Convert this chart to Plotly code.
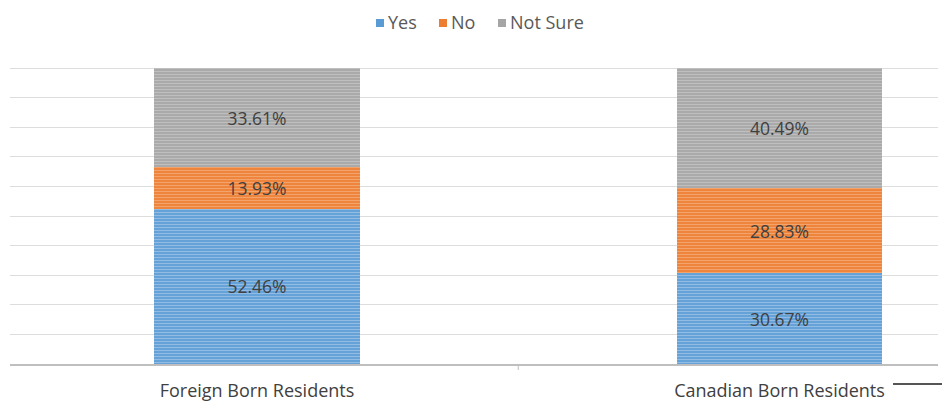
import plotly.graph_objects as go

# Survey responses by residency group (percent)
groups = ["Foreign Born Residents", "Canadian Born Residents"]
yes_pct = [52.46, 30.67]
no_pct = [13.93, 28.83]
not_sure_pct = [33.61, 40.49]

series = [
    ("Yes", yes_pct, "#5B9BD5", "#C9DEF3"),
    ("No", no_pct, "#ED7D31", "#F9CBA9"),
    ("Not Sure", not_sure_pct, "#A5A5A5", "#DADADA"),
]

FONT = "Open Sans, Noto Sans, sans-serif"
x_pos = list(range(len(groups)))

# plot area in pixels
L, R, T, B = 10, 938, 67, 364
W, H = 945, 401
Y_TOP = 100.34


def px_x(p):
    return (p - L) / (R - L)


def px_y(p):
    return (B - p) / (B - T)


fig = go.Figure()
for name, vals, base, stripe in series:
    fig.add_trace(go.Bar(
        name=name,
        x=x_pos,
        y=vals,
        width=0.394,
        marker=dict(
            color=base,
            line=dict(width=0),
            pattern=dict(shape="-", fgcolor=stripe, bgcolor=base,
                         size=3, solidity=0.45, fillmode="overlay"),
        ),
        text=[f"{v:.2f}%" for v in vals],
        textposition="inside",
        insidetextanchor="middle",
        textfont=dict(family=FONT, size=17.5, color="#404040"),
        textangle=0,
        hoverinfo="skip",
        showlegend=False,
    ))

fig.update_layout(
    barmode="stack",
    width=W,
    height=H,
    margin=dict(l=L, r=W - R, t=T, b=H - B, autoexpand=False),
    paper_bgcolor="white",
    plot_bgcolor="white",
    showlegend=False,
    uniformtext=dict(mode="show", minsize=10),
)

fig.update_xaxes(
    range=[-0.4727, 1.3033],
    tickmode="array",
    tickvals=x_pos,
    ticktext=groups,
    ticks="outside",
    ticklen=9,
    tickcolor="rgba(0,0,0,0)",
    showgrid=False,
    zeroline=False,
    showline=True,
    linecolor="#BFBFBF",
    linewidth=2,
    automargin=False,
    tickfont=dict(family=FONT, size=18, color="#404040"),
    fixedrange=True,
)

fig.update_yaxes(
    range=[0, Y_TOP],
    tickvals=list(range(0, 101, 10)),
    showticklabels=False,
    showgrid=True,
    gridcolor="#DDDDDD",
    gridwidth=1,
    zeroline=False,
    automargin=False,
    fixedrange=True,
)

# Legend: small colour squares followed by series names
legend_squares = [376, 439, 498]
for (name, _, base, _), sx in zip(series, legend_squares):
    fig.add_shape(type="rect", xref="paper", yref="paper",
                  x0=px_x(sx), x1=px_x(sx + 8), y0=px_y(19), y1=px_y(27),
                  line=dict(width=0), fillcolor=base)
    fig.add_annotation(xref="paper", yref="paper", x=px_x(sx + 10), y=px_y(21.5),
                       text=name, showarrow=False, xanchor="left", yanchor="middle",
                       font=dict(family=FONT, size=18, color="#595959"))

# Category divider tick between the two groups
fig.add_shape(type="line", xref="x", yref="paper", x0=0.5, x1=0.5,
              y0=0, y1=px_y(370), line=dict(color="#BFBFBF", width=1))

# Short dark stroke at the lower right
fig.add_shape(type="line", xref="paper", yref="paper",
              x0=px_x(893), x1=px_x(942), y0=px_y(384), y1=px_y(384),
              line=dict(color="#555555", width=2))

fig.write_html("out.html")
